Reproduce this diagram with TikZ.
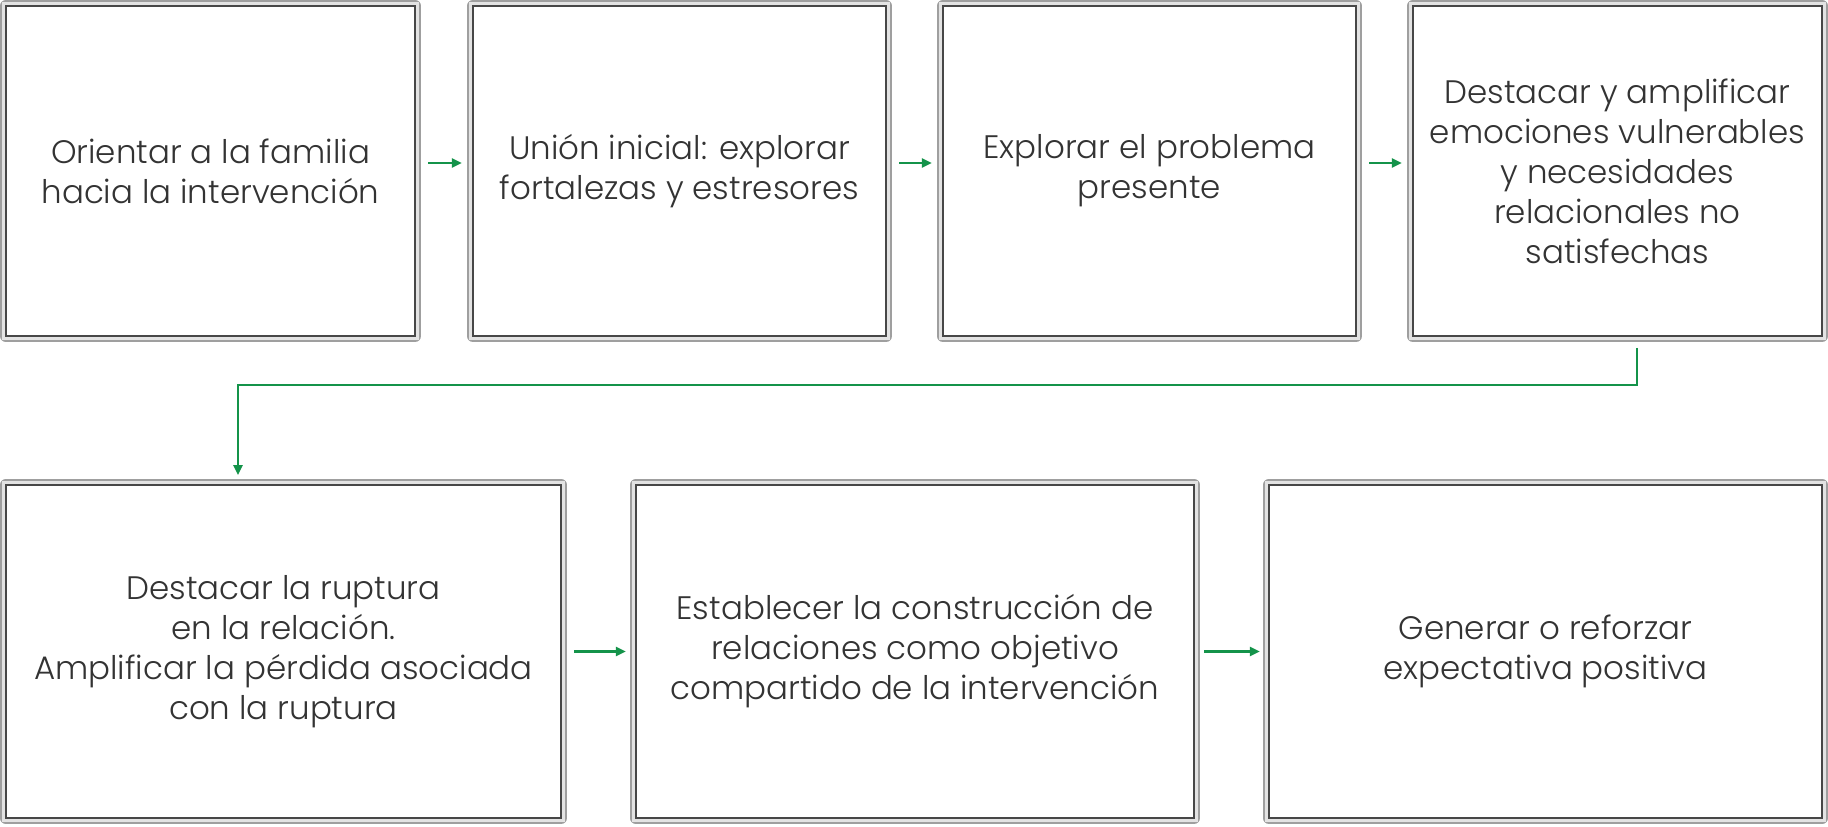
\documentclass[tikz,border=0pt]{standalone}
\usepackage{fontspec}
\setmainfont{Poppins}[UprightFont={* Light}]
\usetikzlibrary{arrows.meta}
\definecolor{txt}{HTML}{333333}
\definecolor{grn}{HTML}{14934A}
\tikzset{
  box/.style={
    preaction={draw=gray!75, line width=11.6pt, line join=round},
    preaction={draw=gray!22, line width=7.6pt},
    fill=white, draw=black!72, line width=1.8pt,
    inner sep=0pt, align=center, text=txt,
    font=\fontsize{32.5}{40}\selectfont
  },
  arr/.style={draw=grn, line width=2.5pt, -{Triangle[length=10pt,width=9pt]}}
}
\begin{document}
\begin{tikzpicture}[x=1pt,y=-1pt]
\useasboundingbox (0,0) rectangle (1828,827);
\node[box, minimum width=409.4pt, minimum height=330.4pt] (b1) at (210.5,171) {Orientar a la familia\\hacia la intervención};
\node[box, minimum width=413.4pt, minimum height=330.4pt] (b2) at (679.5,171) {Unión inicial: explorar\\fortalezas y estresores};
\node[box, minimum width=413.4pt, minimum height=330.4pt] (b3) at (1149.5,171) {Explorar el problema\\presente};
\node[box, minimum width=409.4pt, minimum height=330.4pt] (b4) at (1617.5,171) {Destacar y amplificar\\emociones vulnerables\\y necesidades\\relacionales no\\satisfechas};
\node[box, minimum width=555.4pt, minimum height=333.4pt] (b5) at (283.5,651.5) {Destacar la ruptura\\en la relación.\\Amplificar la pérdida asociada\\con la ruptura};
\node[box, minimum width=558.4pt, minimum height=333.4pt] (b6) at (915,651.5) {Establecer la construcción de\\relaciones como objetivo\\compartido de la intervención};
\node[box, minimum width=553.4pt, minimum height=333.4pt] (b7) at (1545.5,651.5) {Generar o reforzar\\expectativa positiva};
\draw[arr, shorten <=12pt, shorten >=10pt] ([yshift=8pt]b1.east) -- ([yshift=8pt]b2.west);
\draw[arr, shorten <=12pt, shorten >=10pt] ([yshift=8pt]b2.east) -- ([yshift=8pt]b3.west);
\draw[arr, shorten <=12pt, shorten >=10pt] ([yshift=8pt]b3.east) -- ([yshift=8pt]b4.west);
\draw[arr, shorten <=12pt, shorten >=9pt] (b5) -- (b6);
\draw[arr, shorten <=9pt, shorten >=8pt] (b6) -- (b7);
\draw[arr] ([xshift=19.5pt,yshift=-10.8pt]b4.south) -- ++(0,37) -| ([xshift=-45.5pt,yshift=8.8pt]b5.north);
\end{tikzpicture}
\end{document}
